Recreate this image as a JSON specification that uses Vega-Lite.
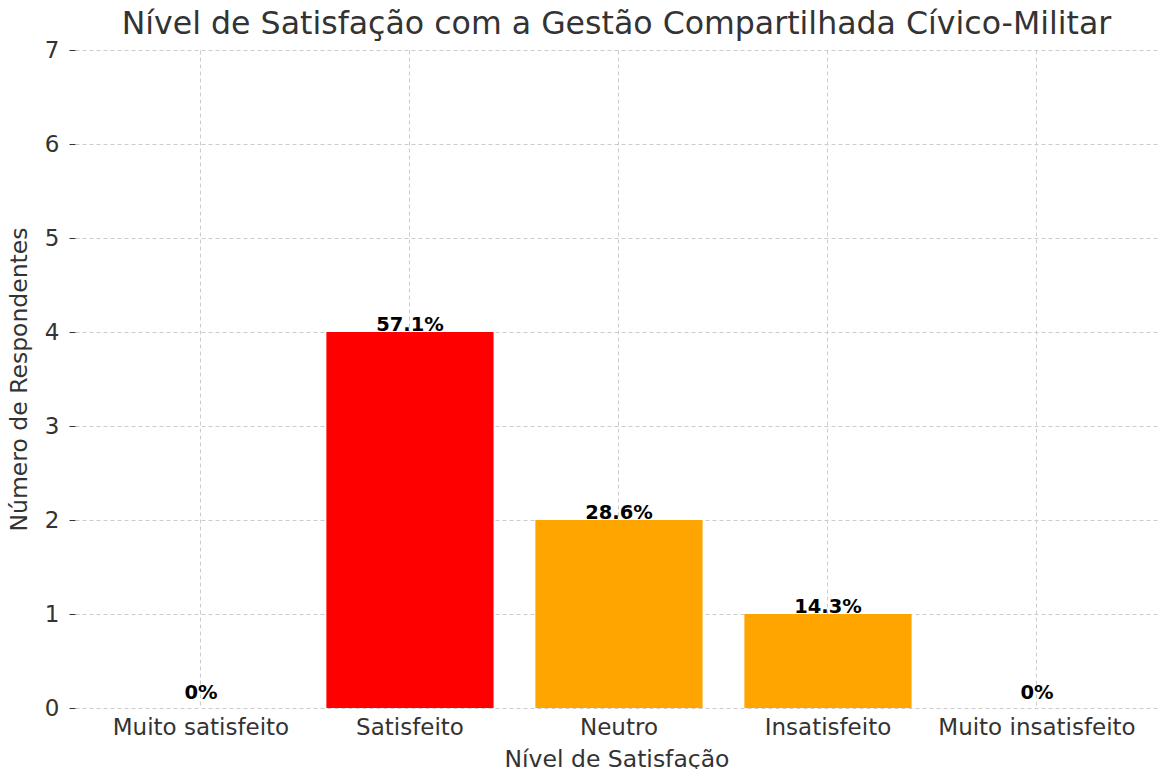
{
  "$schema": "https://vega.github.io/schema/vega-lite/v6.json",
  "width": 1083,
  "height": 658,
  "autosize": {"type": "none"},
  "padding": {"left": 75, "top": 50, "right": 0, "bottom": 61},
  "background": "white",
  "config": {
    "font": "DejaVu Sans",
    "view": {"stroke": null}
  },
  "title": {
    "text": "Nível de Satisfação com a Gestão Compartilhada Cívico-Militar",
    "fontSize": 31.6,
    "font": "DejaVu Sans",
    "fontWeight": "normal",
    "color": "#333333",
    "anchor": "middle",
    "frame": "group",
    "baseline": "alphabetic",
    "offset": 12,
    "dy": 39
  },
  "data": {
    "values": [
      {"nivel": "Muito satisfeito", "respondentes": 0, "pct": "0%"},
      {"nivel": "Satisfeito", "respondentes": 4, "pct": "57.1%"},
      {"nivel": "Neutro", "respondentes": 2, "pct": "28.6%"},
      {"nivel": "Insatisfeito", "respondentes": 1, "pct": "14.3%"},
      {"nivel": "Muito insatisfeito", "respondentes": 0, "pct": "0%"}
    ]
  },
  "encoding": {
    "x": {
      "field": "nivel",
      "type": "nominal",
      "sort": null,
      "scale": {"paddingInner": 0.2, "paddingOuter": 0.1909, "align": 0.531},
      "axis": {
        "title": "Nível de Satisfação",
        "titleFontSize": 23.5,
        "titleFontWeight": "normal",
        "titleColor": "#333333",
        "titlePadding": 8,
        "labelFontSize": 23,
        "labelColor": "#333333",
        "labelAngle": 0,
        "labelPadding": 8,
        "labelLimit": 400,
        "labelOverlap": false,
        "ticks": false,
        "domain": false,
        "grid": true,
        "gridColor": "#cccccc",
        "gridDash": [4, 3],
        "gridWidth": 1,
        "bandPosition": 0.5
      }
    },
    "y": {
      "field": "respondentes",
      "type": "quantitative",
      "scale": {"domain": [0, 7], "nice": false},
      "axis": {
        "title": "Número de Respondentes",
        "titleFontSize": 23.5,
        "titleFontWeight": "normal",
        "titleColor": "#333333",
        "titlePadding": 13,
        "labelFontSize": 23,
        "labelColor": "#333333",
        "labelPadding": 10,
        "labelOverlap": false,
        "labelFlush": false,
        "values": [0, 1, 2, 3, 4, 5, 6, 7],
        "ticks": true,
        "tickSize": 6,
        "tickColor": "#333333",
        "domain": false,
        "grid": true,
        "gridColor": "#cccccc",
        "gridDash": [4, 3],
        "gridWidth": 1
      }
    }
  },
  "layer": [
    {
      "mark": {"type": "bar"},
      "encoding": {
        "color": {
          "field": "nivel",
          "type": "nominal",
          "scale": {
            "domain": ["Muito satisfeito", "Satisfeito", "Neutro", "Insatisfeito", "Muito insatisfeito"],
            "range": ["#008000", "#ff0000", "#ffa500", "#ffa500", "#ffa500"]
          },
          "legend": null
        }
      }
    },
    {
      "transform": [{"filter": "datum.respondentes > 0"}],
      "mark": {"type": "text", "fontWeight": "bold", "fontSize": 19.5, "color": "black", "baseline": "alphabetic", "dy": -1},
      "encoding": {"text": {"field": "pct"}}
    },
    {
      "transform": [{"filter": "datum.respondentes == 0"}],
      "mark": {"type": "text", "fontWeight": "bold", "fontSize": 19.5, "color": "black", "baseline": "alphabetic", "dy": -9},
      "encoding": {"text": {"field": "pct"}}
    }
  ]
}
